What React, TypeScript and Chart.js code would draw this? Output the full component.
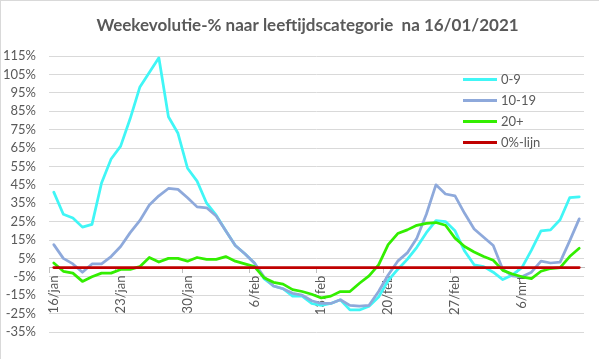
import React, { useEffect, useRef } from "react";
import { Chart, registerables } from "chart.js";

Chart.register(...registerables);

const chartTitle = "Weekevolutie-% naar leeftijdscategorie  na 16/01/2021";

const dates = [
  "16/jan", "17/jan", "18/jan", "19/jan", "20/jan", "21/jan", "22/jan",
  "23/jan", "24/jan", "25/jan", "26/jan", "27/jan", "28/jan", "29/jan",
  "30/jan", "31/jan", "1/feb", "2/feb", "3/feb", "4/feb", "5/feb",
  "6/feb", "7/feb", "8/feb", "9/feb", "10/feb", "11/feb", "12/feb",
  "13/feb", "14/feb", "15/feb", "16/feb", "17/feb", "18/feb", "19/feb",
  "20/feb", "21/feb", "22/feb", "23/feb", "24/feb", "25/feb", "26/feb",
  "27/feb", "28/feb", "1/mrt", "2/mrt", "3/mrt", "4/mrt", "5/mrt",
  "6/mrt", "7/mrt", "8/mrt", "9/mrt", "10/mrt", "11/mrt", "12/mrt",
];

const age0to9 = [
  41, 29, 27, 22, 23.5, 46, 59, 66, 81, 98, 106, 114, 82, 73,
  54, 47, 35, 28.5, 20, 12, 7.5, 2.5, -6, -10, -11.5, -15.5, -15.5, -19.5,
  -20.5, -19.5, -17.5, -23, -23, -21, -16, -7, -1, 4.5, 11, 19, 25.5, 25,
  20, 9, 1.5, 0.5, -2.5, -6.5, -4, 0, 9.5, 20, 20.5, 26, 38, 38.5,
];

const age10to19 = [
  12.5, 5, 2, -2.5, 2, 2, 6, 11.5, 19, 25.5, 34, 39, 43, 42.5,
  38, 33, 32.5, 28, 20, 12, 7.5, 2.5, -5, -10, -11.5, -14, -15, -18,
  -19.5, -19.5, -17.5, -20.5, -21, -20.5, -13, -4, 3.5, 8, 16, 29, 45, 40,
  39, 29.5, 21, 16.5, 12, -1, -4.5, -5, -2.5, 3.5, 2.5, 3, 14.5, 26.5,
];

const age20plus = [
  2.5, -2, -3, -7.5, -5, -3, -3, -1, -1, 0.5, 5.5, 3, 5, 5,
  3.5, 5.5, 4.5, 4.5, 6, 3.5, 2, 0.5, -5.5, -8, -9, -12, -13, -14.5,
  -16.5, -15.5, -13, -13, -8.5, -4.5, 1.5, 12.5, 18.5, 20.5, 23, 24, 24.5, 23,
  16, 11.5, 8.5, 6, 4, -1.5, -3.5, -5, -6, -2, -0.5, 0, 6, 10.5,
];

const zeroLine = [
  0, 0, 0, 0, 0, 0, 0, 0, 0, 0, 0, 0, 0, 0,
  0, 0, 0, 0, 0, 0, 0, 0, 0, 0, 0, 0, 0, 0,
  0, 0, 0, 0, 0, 0, 0, 0, 0, 0, 0, 0, 0, 0,
  0, 0, 0, 0, 0, 0, 0, 0, 0, 0, 0, 0, 0, 0,
];

const yTickValues = [-35, -25, -15, -5, 5, 15, 25, 35, 45, 55, 65, 75, 85, 95, 105, 115];

const seriesNames = ["0-9", "10-19", "20+", "0%-lijn"];
const seriesColors = ["#40F6F6", "#8EA9DB", "#33EE00", "#C00000"];

const FONT = "Lato, 'Liberation Sans', sans-serif";
const TEXT = "#595959";

const framePlugin = {
  id: "frame",
  beforeDraw(chart: any) {
    const ctx = chart.ctx;
    ctx.save();
    ctx.fillStyle = "#FFFFFF";
    ctx.fillRect(0, 0, chart.width, chart.height);
    ctx.fillStyle = "#D9D9D9";
    ctx.fillRect(0, 0, chart.width, 1);
    ctx.fillRect(0, 0, 1, chart.height);
    ctx.restore();
  },
};

const titlePlugin = {
  id: "customTitle",
  afterDraw(chart: any) {
    const ctx = chart.ctx;
    ctx.save();
    ctx.font = `bold 17px ${FONT}`;
    ctx.fillStyle = TEXT;
    ctx.textAlign = "center";
    ctx.textBaseline = "alphabetic";
    ctx.fillText(chartTitle, 307.5, 31);
    ctx.restore();
  },
};

const legendPlugin = {
  id: "customLegend",
  afterDraw(chart: any) {
    const ctx = chart.ctx;
    const area = chart.chartArea;
    const x0 = area.right - 121;
    const y0 = area.top + 23.5;
    ctx.save();
    ctx.font = `13px ${FONT}`;
    ctx.textBaseline = "middle";
    ctx.textAlign = "left";
    chart.data.datasets.forEach((ds: any, i: number) => {
      const y = y0 + i * 21;
      ctx.strokeStyle = ds.borderColor;
      ctx.lineWidth = 3;
      ctx.lineCap = "butt";
      ctx.beginPath();
      ctx.moveTo(x0, y);
      ctx.lineTo(x0 + 34, y);
      ctx.stroke();
      ctx.fillStyle = TEXT;
      ctx.fillText(ds.label, x0 + 38, y + 0.5);
    });
    ctx.restore();
  },
};

export default function App() {
  const canvasRef = useRef<HTMLCanvasElement | null>(null);

  useEffect(() => {
    const canvas = canvasRef.current;
    if (!canvas) return;
    const seriesData = [age0to9, age10to19, age20plus, zeroLine];
    const chart = new Chart(canvas, {
      type: "line",
      data: {
        labels: dates,
        datasets: seriesData.map((d, i) => ({
          label: seriesNames[i],
          data: d,
          borderColor: seriesColors[i],
          backgroundColor: seriesColors[i],
          borderWidth: 2.75,
          pointRadius: 0,
          pointHoverRadius: 0,
          tension: 0,
          fill: false,
          borderJoinStyle: "round" as const,
          borderCapStyle: "round" as const,
          order: 3 - i,
        })),
      },
      options: {
        animation: false,
        responsive: false,
        devicePixelRatio: 1,
        layout: { padding: { top: 56, bottom: 27, left: 0, right: 15 } },
        plugins: {
          legend: { display: false },
          title: { display: false },
          tooltip: { enabled: false },
        },
        scales: {
          x: {
            type: "category",
            position: { y: 0 } as any,
            offset: true,
            afterFit: (scale: any) => {
              scale.height = 0;
            },
            grid: {
              offset: true,
              drawOnChartArea: false,
              drawTicks: true,
              tickLength: 5,
              tickColor: (ctx: any) => (ctx.index % 7 === 0 ? "#BFBFBF" : "rgba(0,0,0,0)"),
            },
            border: { display: true, color: "#BFBFBF", width: 1 },
            ticks: {
              autoSkip: false,
              minRotation: 90,
              maxRotation: 90,
              padding: 3,
              color: TEXT,
              font: { family: FONT, size: 13 },
              callback: (_v: any, i: number) => (i % 7 === 0 ? dates[i] : ""),
            },
          },
          y: {
            type: "linear",
            min: -35,
            max: 115,
            afterBuildTicks: (scale: any) => {
              scale.ticks = yTickValues.map((v) => ({ value: v }));
            },
            afterFit: (scale: any) => {
              scale.width = 49;
            },
            grid: { color: "#D9D9D9", lineWidth: 1, drawTicks: false },
            border: { display: false },
            ticks: {
              autoSkip: false,
              padding: 13,
              color: TEXT,
              font: { family: FONT, size: 13 },
              callback: (v: any) => `${v}%`,
            },
          },
        },
      },
      plugins: [framePlugin, titlePlugin, legendPlugin],
    });
    return () => chart.destroy();
  }, []);

  return (
    <div style={{ position: "fixed", left: 0, top: 0, width: 599, height: 359, background: "#fff" }}>
      <canvas ref={canvasRef} width={599} height={359} style={{ display: "block" }} />
    </div>
  );
}
